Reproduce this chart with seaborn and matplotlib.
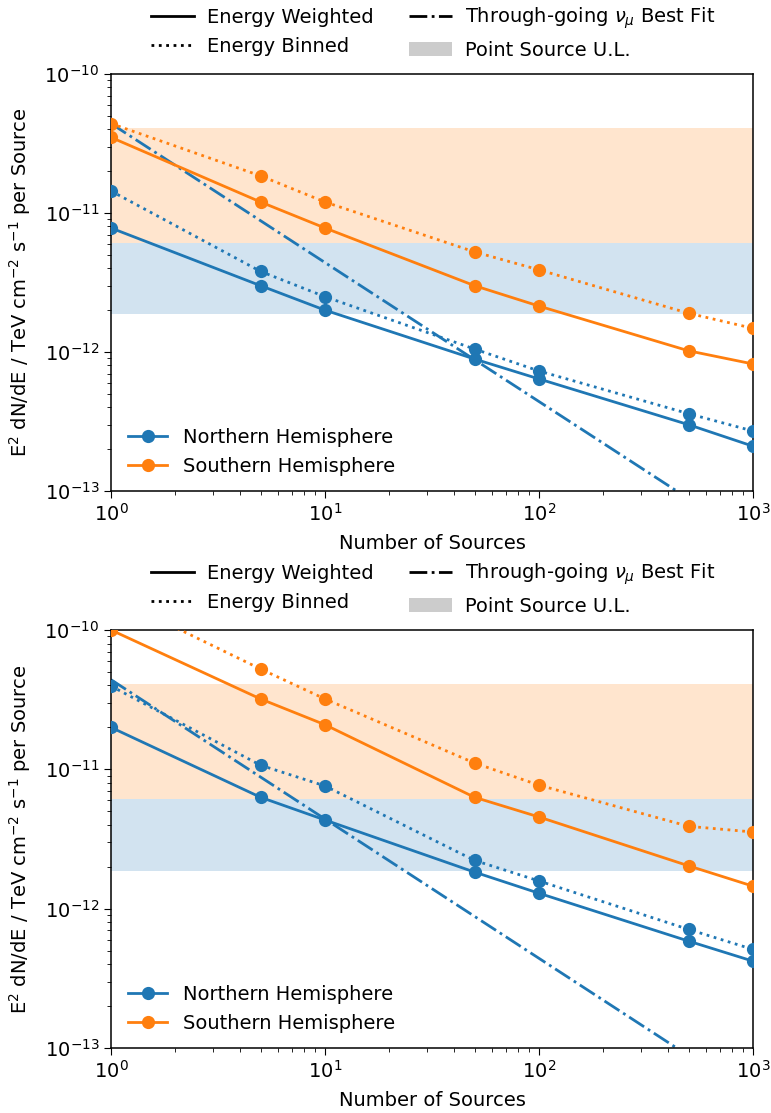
import numpy as np
import pandas as pd
import matplotlib
matplotlib.use("Agg")
import matplotlib.pyplot as plt
from matplotlib.lines import Line2D
from matplotlib.patches import Patch
import seaborn as sns

# Number of sources at which the limits were computed
n_sources = [1, 5, 10, 50, 100, 500, 1000]

# Upper panel: per-source flux limits (TeV cm^-2 s^-1)
top_north_weighted = [7.8e-12, 3.0e-12, 2.0e-12, 8.9e-13, 6.4e-13, 3.0e-13, 2.1e-13]
top_north_binned = [1.44e-11, 3.8e-12, 2.5e-12, 1.05e-12, 7.3e-13, 3.6e-13, 2.7e-13]
top_south_weighted = [3.5e-11, 1.2e-11, 7.8e-12, 3.0e-12, 2.14e-12, 1.02e-12, 8.2e-13]
top_south_binned = [4.4e-11, 1.85e-11, 1.2e-11, 5.25e-12, 3.9e-12, 1.9e-12, 1.48e-12]

# Lower panel: per-source flux limits (TeV cm^-2 s^-1)
bot_north_weighted = [2.0e-11, 6.3e-12, 4.33e-12, 1.83e-12, 1.29e-12, 5.85e-13, 4.2e-13]
bot_north_binned = [3.96e-11, 1.07e-11, 7.6e-12, 2.22e-12, 1.58e-12, 7.1e-13, 5.1e-13]
bot_south_weighted = [1.0e-10, 3.2e-11, 2.09e-11, 6.3e-12, 4.55e-12, 2.03e-12, 1.45e-12]
bot_south_binned = [1.75e-10, 5.25e-11, 3.2e-11, 1.11e-11, 7.7e-12, 3.9e-12, 3.55e-12]

# Through-going muon neutrino best fit, split evenly among sources
bestfit_n = [1, 1000]
bestfit_flux = [4.4e-11, 4.4e-14]

# Point-source upper-limit ranges
north_ul = [1.87e-12, 6.1e-12]
south_ul = [6.1e-12, 4.1e-11]

BLUE = "#1f77b4"
ORANGE = "#ff7f0e"

plt.rcParams.update({
    "font.family": ["DejaVu Sans"],
    "font.size": 14,
    "axes.linewidth": 1.1,
    "xtick.major.size": 5,
    "ytick.major.size": 5,
    "xtick.minor.size": 3,
    "ytick.minor.size": 3,
})

fig = plt.figure(figsize=(7.71, 11.13), dpi=100)
W, H = 771, 1113
ax_top = fig.add_axes([111 / W, 1 - 491 / H, 642 / W, 417 / H])
ax_bot = fig.add_axes([111 / W, 1 - 1048 / H, 642 / W, 418 / H])

panels = [
    (ax_top, top_north_weighted, top_north_binned, top_south_weighted, top_south_binned),
    (ax_bot, bot_north_weighted, bot_north_binned, bot_south_weighted, bot_south_binned),
]

lw = 2.0
ms = 9.5

for ax, nw, nb, sw, sb in panels:
    ax.set_xscale("log")
    ax.set_yscale("log")
    ax.axhspan(north_ul[0], north_ul[1], color=BLUE, alpha=0.2, lw=0, zorder=0)
    ax.axhspan(south_ul[0], south_ul[1], color=ORANGE, alpha=0.2, lw=0, zorder=0)

    series = [
        (nw, BLUE, "-"),
        (nb, BLUE, ":"),
        (sw, ORANGE, "-"),
        (sb, ORANGE, ":"),
    ]
    for vals, col, ls in series:
        df = pd.DataFrame({"n": n_sources, "flux": vals})
        sns.lineplot(data=df, x="n", y="flux", ax=ax, color=col, linestyle=ls,
                     linewidth=lw, marker="o", markersize=ms, mec=col, mew=0,
                     legend=False, zorder=3)

    fit = pd.DataFrame({"n": bestfit_n, "flux": bestfit_flux})
    sns.lineplot(data=fit, x="n", y="flux", ax=ax, color=BLUE, linestyle="-.",
                 linewidth=lw, legend=False, zorder=2)

    ax.set_xlim(1, 1000)
    ax.set_ylim(1e-13, 1e-10)
    ax.set_xlabel("Number of Sources", labelpad=7)
    ax.set_ylabel(r"E$^2$ dN/dE / TeV cm$^{-2}$ s$^{-1}$ per Source", labelpad=8)

    style_handles = [
        Line2D([], [], color="black", linestyle="-", linewidth=lw),
        Line2D([], [], color="black", linestyle=":", linewidth=lw),
        Line2D([], [], color="black", linestyle="-.", linewidth=lw),
        Patch(facecolor="#cccccc", edgecolor="none"),
    ]
    style_labels = ["Energy Weighted", "Energy Binned",
                    r"Through-going $\nu_\mu$ Best Fit", "Point Source U.L."]
    leg1 = ax.legend(style_handles, style_labels, ncol=2, frameon=False,
                     loc="lower center", bbox_to_anchor=(0.502, 0.992),
                     columnspacing=1.8, handlelength=2.2, handletextpad=0.7)
    ax.add_artist(leg1)

    hemi_handles = [
        Line2D([], [], color=BLUE, linewidth=lw, marker="o", markersize=ms, mew=0),
        Line2D([], [], color=ORANGE, linewidth=lw, marker="o", markersize=ms, mew=0),
    ]
    ax.legend(hemi_handles, ["Northern Hemisphere", "Southern Hemisphere"],
              frameon=False, loc="lower left", bbox_to_anchor=(0.0, -0.005))

fig.savefig("out.png", dpi=100)
